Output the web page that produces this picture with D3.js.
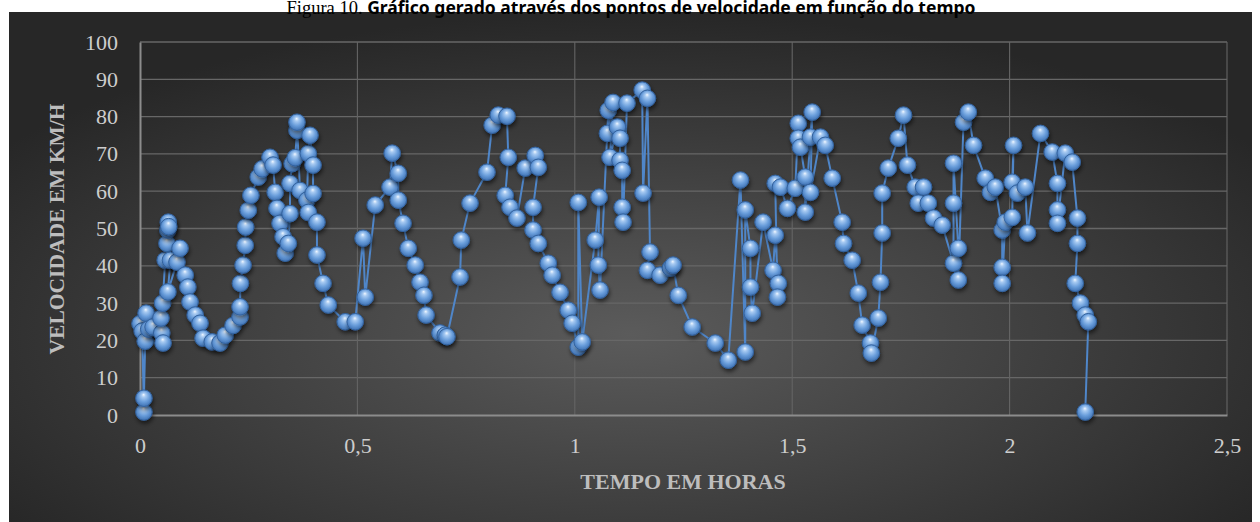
<!DOCTYPE html>
<html>
<head>
<meta charset="utf-8">
<script src="https://cdn.jsdelivr.net/npm/d3@7"></script>
<style>
  body { margin: 0; background: #ffffff; }
  svg { display: block; }
</style>
</head>
<body>
<svg id="chart" width="1260" height="522"></svg>
<script>
// Tempo (h) e velocidade (km/h) registrados ao longo do percurso
const tempo = [
  0.000, 0.005, 0.009, 0.009, 0.012, 0.014, 0.020, 0.030, 0.050, 0.053,
  0.048, 0.052, 0.058, 0.062, 0.064, 0.065, 0.066, 0.070, 0.064, 0.085,
  0.092, 0.104, 0.110, 0.115, 0.127, 0.138, 0.145, 0.166, 0.184, 0.196,
  0.214, 0.230, 0.230, 0.231, 0.237, 0.242, 0.243, 0.249, 0.255, 0.272,
  0.281, 0.299, 0.306, 0.311, 0.315, 0.322, 0.329, 0.334, 0.341, 0.345,
  0.345, 0.350, 0.357, 0.361, 0.361, 0.368, 0.384, 0.387, 0.391, 0.398,
  0.398, 0.387, 0.407, 0.407, 0.421, 0.433, 0.472, 0.495, 0.513, 0.518,
  0.541, 0.575, 0.580, 0.594, 0.594, 0.605, 0.617, 0.633, 0.644, 0.653,
  0.658, 0.690, 0.702, 0.706, 0.736, 0.739, 0.759, 0.798, 0.810, 0.824,
  0.844, 0.847, 0.840, 0.851, 0.867, 0.886, 0.909, 0.916, 0.904, 0.904,
  0.916, 0.939, 0.948, 0.966, 0.985, 0.994, 1.008, 1.008, 1.017, 1.047,
  1.056, 1.054, 1.058, 1.077, 1.075, 1.088, 1.081, 1.098, 1.104, 1.104,
  1.109, 1.109, 1.111, 1.120, 1.155, 1.157, 1.167, 1.173, 1.167, 1.196,
  1.220, 1.226, 1.238, 1.270, 1.323, 1.353, 1.381, 1.392, 1.392, 1.404,
  1.404, 1.408, 1.433, 1.456, 1.461, 1.468, 1.466, 1.461, 1.473, 1.489,
  1.507, 1.514, 1.514, 1.519, 1.530, 1.530, 1.542, 1.546, 1.542, 1.565,
  1.576, 1.592, 1.615, 1.618, 1.638, 1.652, 1.661, 1.680, 1.682, 1.698,
  1.703, 1.707, 1.707, 1.721, 1.744, 1.756, 1.765, 1.783, 1.802, 1.790,
  1.813, 1.825, 1.845, 1.871, 1.871, 1.871, 1.882, 1.882, 1.894, 1.905,
  1.917, 1.944, 1.956, 1.967, 1.983, 1.983, 1.983, 1.990, 2.006, 2.009,
  2.006, 2.018, 2.036, 2.041, 2.071, 2.098, 2.110, 2.110, 2.110, 2.128,
  2.144, 2.156, 2.156, 2.151, 2.163, 2.174, 2.181, 2.174
];
const velocidade = [
  24.5, 22.5, 0.8, 4.5, 19.8, 27.3, 23.0, 23.6, 22.0, 19.3,
  26.0, 30.0, 41.5, 46.0, 49.6, 51.7, 50.5, 41.5, 33.0, 41.0,
  44.7, 37.5, 34.3, 30.3, 26.8, 24.6, 20.6, 19.6, 19.3, 21.4,
  24.0, 26.3, 29.0, 35.3, 40.2, 45.5, 50.4, 54.9, 58.9, 63.8,
  66.0, 69.1, 67.0, 59.7, 55.4, 51.4, 47.8, 43.4, 46.0, 54.0,
  62.1, 67.4, 69.0, 76.3, 78.5, 60.2, 57.6, 70.1, 75.0, 67.0,
  59.4, 54.3, 51.7, 42.9, 35.3, 29.5, 25.0, 25.0, 47.4, 31.6,
  56.3, 61.1, 70.2, 64.8, 57.6, 51.4, 44.7, 40.2, 35.6, 32.1,
  26.8, 22.0, 21.4, 21.0, 37.0, 46.9, 56.8, 65.1, 77.7, 80.4,
  80.1, 69.1, 58.9, 55.7, 52.8, 66.2, 69.6, 66.4, 55.7, 49.6,
  46.0, 40.7, 37.5, 32.9, 28.1, 24.6, 18.2, 57.0, 19.6, 46.9,
  58.4, 40.2, 33.5, 81.7, 75.5, 83.8, 69.1, 77.2, 74.2, 68.3,
  65.6, 55.7, 51.7, 83.6, 87.1, 59.5, 84.9, 43.7, 38.8, 37.5,
  39.4, 40.2, 32.1, 23.6, 19.3, 14.7, 63.0, 16.9, 55.0, 44.7,
  34.3, 27.3, 51.7, 38.8, 48.2, 35.3, 31.6, 62.1, 61.1, 55.4,
  60.8, 78.2, 74.2, 71.8, 63.8, 54.4, 74.5, 81.2, 59.7, 74.5,
  72.3, 63.5, 51.7, 46.0, 41.5, 32.7, 24.1, 19.3, 16.6, 26.0,
  35.6, 48.8, 59.5, 66.2, 74.2, 80.4, 67.0, 61.1, 61.1, 56.8,
  56.8, 52.8, 50.9, 40.7, 56.8, 67.5, 44.7, 36.2, 78.5, 81.2,
  72.3, 63.5, 59.7, 61.1, 49.6, 39.6, 35.3, 51.7, 53.0, 72.3,
  62.4, 59.5, 61.1, 48.8, 75.5, 70.5, 62.1, 55.0, 51.4, 70.2,
  67.8, 52.8, 46.0, 35.3, 30.0, 26.8, 25.0, 0.8
];
const yTicks = [0, 10, 20, 30, 40, 50, 60, 70, 80, 90, 100];
const xTicks = [0, 0.5, 1, 1.5, 2, 2.5];

const pontos = tempo.map((t, i) => ({ t, v: velocidade[i] }));

const svg = d3.select("#chart");
const defs = svg.append("defs");

// Fundo escuro com brilho radial
const bg = defs.append("radialGradient").attr("id", "fundo")
  .attr("cx", "50%").attr("cy", "62%").attr("r", "62%");
bg.append("stop").attr("offset", "0%").attr("stop-color", "#5b5b5b");
bg.append("stop").attr("offset", "100%").attr("stop-color", "#272727");

// Esfera azul dos marcadores
const esfera = defs.append("radialGradient").attr("id", "esfera")
  .attr("cx", "50%").attr("cy", "45%").attr("r", "55%")
  .attr("fx", "48%").attr("fy", "28%");
esfera.append("stop").attr("offset", "0%").attr("stop-color", "#f2f8ff");
esfera.append("stop").attr("offset", "22%").attr("stop-color", "#a9cbf2");
esfera.append("stop").attr("offset", "60%").attr("stop-color", "#6b9fdc");
esfera.append("stop").attr("offset", "100%").attr("stop-color", "#3f72b4");

const sombra = defs.append("filter").attr("id", "sombra")
  .attr("x", "-50%").attr("y", "-50%").attr("width", "200%").attr("height", "200%");
sombra.append("feDropShadow").attr("dx", 1).attr("dy", 3)
  .attr("stdDeviation", 2).attr("flood-color", "#000").attr("flood-opacity", 0.55);

svg.append("rect").attr("x", 9).attr("y", 12).attr("width", 1243).attr("height", 520)
  .attr("fill", "url(#fundo)");

// Título
const titulo = svg.append("text").attr("x", 631).attr("y", 13.5)
  .attr("text-anchor", "middle").attr("fill", "#000");
titulo.append("tspan").attr("font-family", "Liberation Serif, serif")
  .attr("font-size", 18.5).text("Figura 10. ");
titulo.append("tspan").attr("font-family", "Noto Sans, sans-serif")
  .attr("font-weight", "bold").attr("font-size", 17.5)
  .text("Gráfico gerado através dos pontos de velocidade em função do tempo");

const x = d3.scaleLinear().domain([0, 2.5]).range([140, 1227]);
const y = d3.scaleLinear().domain([0, 100]).range([415, 42]);

const fmt = d => String(d).replace(".", ",");

// Grades
const grade = svg.append("g");
grade.selectAll("line.h").data(yTicks.slice(1)).join("line")
  .attr("x1", x(0)).attr("x2", x(2.5)).attr("y1", d => y(d)).attr("y2", d => y(d))
  .attr("stroke", "#676767").attr("stroke-width", 1.3);
grade.selectAll("line.v").data(xTicks.slice(1)).join("line")
  .attr("y1", y(0)).attr("y2", y(100)).attr("x1", d => x(d)).attr("x2", d => x(d))
  .attr("stroke", "#656565").attr("stroke-width", 1.1);

// Eixos
const eixoX = d3.axisBottom(x).tickValues(xTicks).tickFormat(fmt).tickSize(0).tickPadding(22);
const eixoY = d3.axisLeft(y).tickValues(yTicks).tickFormat(fmt).tickSize(0).tickPadding(22);

const gx = svg.append("g").attr("transform", `translate(0,${y(0)})`).call(eixoX);
const gy = svg.append("g").attr("transform", `translate(${x(0)},0)`).call(eixoY);
[gx, gy].forEach(g => {
  g.select(".domain").attr("stroke", "#8c8c8c").attr("stroke-width", 2);
  g.selectAll("text").attr("fill", "#cdcdcd").attr("font-size", 22)
    .attr("font-family", "Liberation Serif, serif");
});

svg.append("text").attr("x", 683).attr("y", 489).attr("text-anchor", "middle")
  .attr("fill", "#bdbdbd").attr("font-family", "Liberation Serif, serif")
  .attr("font-weight", "bold").attr("font-size", 22).text("TEMPO EM HORAS");
svg.append("text").attr("transform", "translate(64,229) rotate(-90)")
  .attr("text-anchor", "middle").attr("fill", "#bdbdbd")
  .attr("font-family", "Liberation Serif, serif").attr("font-weight", "bold")
  .attr("font-size", 21.5).text("VELOCIDADE EM KM/H");

// Linha e marcadores
const linha = d3.line().x(d => x(d.t)).y(d => y(d.v));
svg.append("path").datum(pontos).attr("d", linha)
  .attr("fill", "none").attr("stroke", "#4f86c9").attr("stroke-width", 2)
  .attr("stroke-linejoin", "round");

svg.append("g").selectAll("circle").data(pontos).join("circle")
  .attr("cx", d => x(d.t)).attr("cy", d => y(d.v)).attr("r", 8.3)
  .attr("fill", "url(#esfera)").attr("stroke", "#33629e").attr("stroke-width", 1)
  .attr("filter", "url(#sombra)");
</script>
</body>
</html>
